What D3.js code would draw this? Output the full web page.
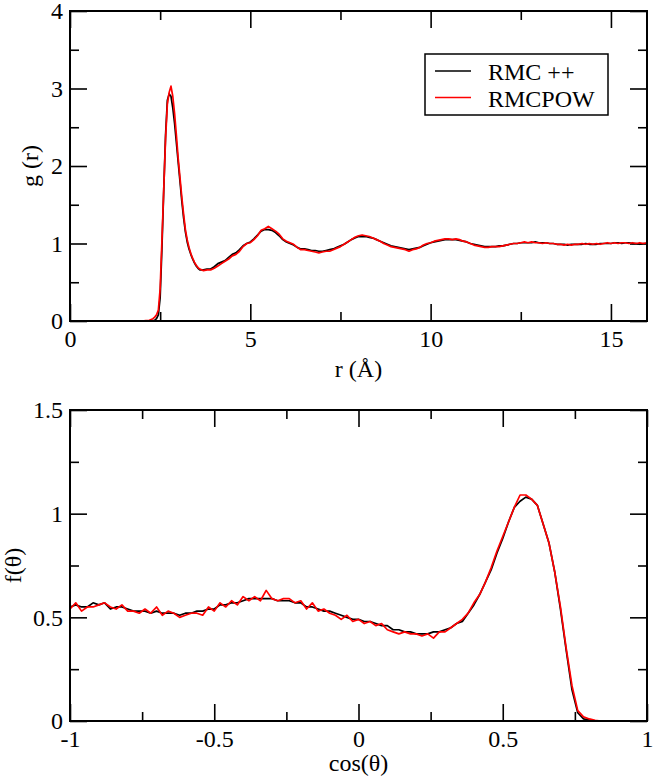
<!DOCTYPE html>
<html>
<head>
<meta charset="utf-8">
<script src="https://cdn.jsdelivr.net/npm/d3@7"></script>
<style>
  html, body { margin: 0; padding: 0; background: #fff; }
</style>
</head>
<body>
<div id="chart"></div>
<script>
// ---- top panel : g(r) ----
const rValues = [
  0, 0.5, 1.0, 1.5, 2.0, 2.1, 2.2,
  2.25, 2.3, 2.35, 2.4, 2.45, 2.5, 2.55, 2.6, 2.65, 2.7,
  2.75, 2.8, 2.85, 2.9, 2.95, 3.0, 3.05, 3.1, 3.15, 3.2,
  3.25, 3.3, 3.35, 3.4, 3.45, 3.5, 3.55, 3.6,
  3.7, 3.8, 3.9, 4.0, 4.1, 4.2, 4.3, 4.4, 4.5, 4.6,
  4.7, 4.8, 4.9, 5.0, 5.1, 5.2, 5.3, 5.4, 5.5, 5.6,
  5.7, 5.8, 5.9, 6.0, 6.1, 6.2, 6.3, 6.4, 6.5, 6.6,
  6.7, 6.8, 6.9, 7.0, 7.1, 7.2, 7.3, 7.4, 7.5, 7.6,
  7.7, 7.8, 7.9, 8.0, 8.1, 8.2, 8.3, 8.4, 8.5, 8.6,
  8.7, 8.8, 8.9, 9.0, 9.1, 9.2, 9.3, 9.4, 9.5, 9.6,
  9.7, 9.8, 9.9, 10.0, 10.1, 10.2, 10.3, 10.4, 10.5, 10.6,
  10.7, 10.8, 10.9, 11.0, 11.1, 11.2, 11.3, 11.4, 11.5, 11.6,
  11.7, 11.8, 11.9, 12.0, 12.1, 12.2, 12.3, 12.4, 12.5, 12.6,
  12.7, 12.8, 12.9, 13.0, 13.1, 13.2, 13.3, 13.4, 13.5, 13.6,
  13.7, 13.8, 13.9, 14.0, 14.1, 14.2, 14.3, 14.4, 14.5, 14.6,
  14.7, 14.8, 14.9, 15.0, 15.1, 15.2, 15.3, 15.4, 15.5, 15.6,
  15.7, 15.8, 15.9, 16.0
];

const gRmcpp = [
  0, 0, 0, 0, 0, 0, 0,
  0, 0.005, 0.01, 0.03, 0.08, 0.30, 0.95, 1.70, 2.40, 2.85,
  2.93, 2.90, 2.75, 2.55, 2.30, 2.05, 1.80, 1.55, 1.33, 1.15,
  1.02, 0.93, 0.86, 0.80, 0.75, 0.71, 0.68, 0.66,
  0.66, 0.67, 0.67, 0.70, 0.74, 0.76, 0.78, 0.82, 0.86, 0.88,
  0.92, 0.97, 1.00, 1.02, 1.06, 1.11, 1.16, 1.18, 1.18, 1.17,
  1.14, 1.10, 1.05, 1.02, 1.00, 0.98, 0.95, 0.93, 0.93, 0.92,
  0.91, 0.91, 0.90, 0.90, 0.91, 0.92, 0.93, 0.95, 0.97, 0.99,
  1.02, 1.05, 1.07, 1.09, 1.09, 1.09, 1.08, 1.07, 1.05, 1.03,
  1.01, 0.99, 0.97, 0.96, 0.95, 0.94, 0.93, 0.92, 0.93, 0.94,
  0.95, 0.97, 0.99, 1.01, 1.02, 1.03, 1.04, 1.05, 1.05, 1.05,
  1.05, 1.04, 1.03, 1.02, 1.00, 0.99, 0.98, 0.97, 0.96, 0.96,
  0.96, 0.96, 0.97, 0.97, 0.98, 0.99, 1.00, 1.00, 1.01, 1.01,
  1.01, 1.01, 1.02, 1.01, 1.01, 1.01, 1.00, 1.00, 0.99, 0.99,
  0.99, 0.98, 0.99, 0.99, 0.99, 0.99, 1.00, 0.99, 0.99, 0.99,
  1.00, 1.00, 1.00, 1.00, 1.01, 1.01, 1.00, 1.01, 1.01, 1.00,
  1.00, 0.99, 1.00, 1.00
];

const gRmcpow = [
  0, 0, 0, 0, 0, 0.005, 0.01,
  0.02, 0.03, 0.05, 0.08, 0.14, 0.42, 1.05, 1.70, 2.35, 2.80,
  2.95, 3.03, 2.90, 2.68, 2.40, 2.10, 1.85, 1.60, 1.38, 1.18,
  1.05, 0.95, 0.87, 0.81, 0.76, 0.72, 0.69, 0.67,
  0.65, 0.66, 0.66, 0.68, 0.71, 0.74, 0.77, 0.80, 0.84, 0.86,
  0.90, 0.96, 1.00, 1.01, 1.05, 1.10, 1.17, 1.19, 1.22, 1.19,
  1.16, 1.12, 1.06, 1.03, 1.01, 0.99, 0.95, 0.92, 0.92, 0.91,
  0.90, 0.89, 0.88, 0.89, 0.90, 0.90, 0.92, 0.94, 0.96, 0.99,
  1.02, 1.05, 1.08, 1.10, 1.11, 1.10, 1.09, 1.07, 1.05, 1.03,
  1.00, 0.98, 0.96, 0.95, 0.94, 0.93, 0.92, 0.90, 0.92, 0.93,
  0.95, 0.98, 1.00, 1.01, 1.03, 1.04, 1.05, 1.06, 1.06, 1.05,
  1.06, 1.05, 1.03, 1.02, 1.00, 0.98, 0.97, 0.96, 0.95, 0.95,
  0.96, 0.96, 0.96, 0.97, 0.98, 0.99, 1.00, 1.00, 1.01, 1.02,
  1.01, 1.02, 1.01, 1.01, 1.00, 1.01, 1.00, 1.00, 0.99, 0.99,
  0.98, 0.99, 0.98, 0.99, 0.99, 1.00, 0.99, 1.00, 0.99, 1.00,
  0.99, 1.00, 1.01, 1.00, 1.01, 1.00, 1.01, 1.01, 1.00, 1.01,
  1.00, 1.01, 1.00, 1.01
];

const rTicks = [0, 5, 10, 15];
const rMinorTicks = [2.5, 7.5, 12.5];
const gTicks = [0, 1, 2, 3, 4];
const gMinorTicks = [0.5, 1.5, 2.5, 3.5];

// ---- bottom panel : f(theta) ----
const cosValues = [
  -1.00, -0.98, -0.96, -0.94, -0.92, -0.90, -0.88, -0.86, -0.84, -0.82,
  -0.80, -0.78, -0.76, -0.74, -0.72, -0.70, -0.68, -0.66, -0.64, -0.62,
  -0.60, -0.58, -0.56, -0.54, -0.52, -0.50, -0.48, -0.46, -0.44, -0.42,
  -0.40, -0.38, -0.36, -0.34, -0.32, -0.30, -0.28, -0.26, -0.24, -0.22,
  -0.20, -0.18, -0.16, -0.14, -0.12, -0.10, -0.08, -0.06, -0.04, -0.02,
  0.00, 0.02, 0.04, 0.06, 0.08, 0.10, 0.12, 0.14, 0.16, 0.18,
  0.20, 0.22, 0.24, 0.26, 0.28, 0.30, 0.32, 0.34, 0.36, 0.38,
  0.40, 0.42, 0.44, 0.46, 0.48, 0.50, 0.52, 0.54, 0.56, 0.58,
  0.60, 0.62, 0.64, 0.66, 0.68, 0.70, 0.72, 0.74, 0.76, 0.78,
  0.80, 0.82, 0.84, 0.86, 0.88, 0.90, 0.92, 0.94, 0.96, 0.98,
  1.00
];

const fRmcpp = [
  0.55, 0.56, 0.55, 0.55, 0.57, 0.56, 0.57, 0.54, 0.55, 0.55,
  0.54, 0.53, 0.53, 0.53, 0.52, 0.53, 0.52, 0.52, 0.52, 0.51,
  0.52, 0.52, 0.53, 0.53, 0.54, 0.54, 0.56, 0.56, 0.57, 0.57,
  0.58, 0.59, 0.59, 0.59, 0.59, 0.59, 0.58, 0.58, 0.58, 0.57,
  0.57, 0.55, 0.55, 0.54, 0.53, 0.53, 0.52, 0.51, 0.50, 0.49,
  0.49, 0.48, 0.48, 0.47, 0.46, 0.46, 0.44, 0.44, 0.43, 0.43,
  0.42, 0.42, 0.42, 0.43, 0.43, 0.44, 0.45, 0.47, 0.48, 0.52,
  0.56, 0.61, 0.67, 0.73, 0.81, 0.88, 0.96, 1.03, 1.06, 1.08,
  1.07, 1.04, 0.95, 0.86, 0.72, 0.54, 0.34, 0.15, 0.04, 0.01,
  0.005, 0, 0, 0, 0, 0, 0, 0, 0, 0,
  0
];

const fRmcpow = [
  0.54, 0.57, 0.53, 0.55, 0.55, 0.56, 0.57, 0.55, 0.54, 0.56,
  0.53, 0.53, 0.52, 0.54, 0.52, 0.55, 0.51, 0.53, 0.52, 0.50,
  0.51, 0.52, 0.52, 0.51, 0.55, 0.53, 0.57, 0.55, 0.58, 0.56,
  0.60, 0.58, 0.60, 0.58, 0.63, 0.59, 0.58, 0.59, 0.59, 0.57,
  0.58, 0.54, 0.57, 0.53, 0.54, 0.52, 0.51, 0.49, 0.51, 0.48,
  0.49, 0.47, 0.48, 0.46, 0.47, 0.44, 0.43, 0.42, 0.43, 0.42,
  0.42, 0.41, 0.42, 0.40, 0.43, 0.43, 0.45, 0.47, 0.49, 0.52,
  0.57, 0.61, 0.67, 0.74, 0.82, 0.89, 0.96, 1.03, 1.09, 1.09,
  1.07, 1.04, 0.95, 0.86, 0.72, 0.55, 0.35, 0.17, 0.05, 0.02,
  0.01, 0.003, 0, 0, 0, 0, 0, 0, 0, 0,
  0
];

const cosTicks = [-1, -0.5, 0, 0.5, 1];
const cosMinorTicks = [-0.75, -0.25, 0.25, 0.75];
const fTicks = [0, 0.5, 1, 1.5];
const fMinorTicks = [0.25, 0.75, 1.25];

const seriesNames = ['RMC ++', 'RMCPOW'];
const seriesColors = ['#000000', '#ff0000'];

const chart = (() => {
    const width = 654, height = 779;
    const left = 70, right = 647;
    const majorLen = 17, minorLen = 9;
    const serif = 'Liberation Serif';
    let svg;

    const appendSVG = () => {
        svg = d3.select('#chart').append('svg')
          .attr('width', width)
          .attr('height', height)
          .attr('font-family', serif);
    };

    const setFont = (sel) => sel
        .attr('font-family', serif)
        .attr('font-size', 24)
        .attr('fill', '#000');

    /**
     * Draw one framed panel with mirrored inward ticks
     */
    const drawPanel = (p) => {
        const x = d3.scaleLinear().domain(p.xDomain).range([left, right]);
        const y = d3.scaleLinear().domain(p.yDomain).range([p.bottom, p.top]);
        const g = svg.append('g');
        const fmt = d => String(d);

        const styleAxis = (sel) => {
            sel.attr('font-family', serif).attr('font-size', 24);
            sel.select('.domain').remove();
            sel.selectAll('line').attr('stroke', '#000').attr('stroke-width', 1.6);
            sel.selectAll('text').call(setFont);
        };

        const addAxis = (axisFn, scale, ticks, len, withText, tx, ty) => {
            const axis = axisFn(scale).tickValues(ticks).tickSize(-len)
              .tickFormat(withText ? fmt : '');
            g.append('g')
              .attr('transform', `translate(${tx},${ty})`)
              .call(withText ? axis.tickPadding(withText === 'x' ? 9 : 7) : axis)
              .call(styleAxis);
        };

        addAxis(d3.axisBottom, x, p.xTicks, majorLen, 'x', 0, p.bottom);
        addAxis(d3.axisBottom, x, p.xMinor, minorLen, false, 0, p.bottom);
        addAxis(d3.axisTop, x, p.xTicks, majorLen, false, 0, p.top);
        addAxis(d3.axisTop, x, p.xMinor, minorLen, false, 0, p.top);
        addAxis(d3.axisLeft, y, p.yTicks, majorLen, 'y', left, 0);
        addAxis(d3.axisLeft, y, p.yMinor, minorLen, false, left, 0);
        addAxis(d3.axisRight, y, p.yTicks, majorLen, false, right, 0);
        addAxis(d3.axisRight, y, p.yMinor, minorLen, false, right, 0);

        const line = d3.line()
          .x(d => x(d[0]))
          .y(d => y(d[1]));

        p.series.forEach((vals, i) => {
            g.append('path')
              .datum(p.xs.map((v, k) => [v, vals[k]]))
              .attr('fill', 'none')
              .attr('stroke', seriesColors[i])
              .attr('stroke-width', 1.7)
              .attr('stroke-linejoin', 'round')
              .attr('d', line);
        });

        g.append('rect')
          .attr('x', left).attr('y', p.top)
          .attr('width', right - left).attr('height', p.bottom - p.top)
          .attr('fill', 'none')
          .attr('stroke', '#000')
          .attr('stroke-width', 2);

        g.append('text')
          .attr('x', (left + right) / 2)
          .attr('y', p.xTitleY)
          .attr('text-anchor', 'middle')
          .call(setFont)
          .text(p.xTitle);

        g.append('text')
          .attr('transform', `translate(${p.yTitleX},${(p.top + p.bottom) / 2}) rotate(-90)`)
          .attr('text-anchor', 'middle')
          .call(setFont)
          .text(p.yTitle);
    };

    const drawLegend = () => {
        const lg = svg.append('g');
        lg.append('rect')
          .attr('x', 425).attr('y', 54)
          .attr('width', 183).attr('height', 61)
          .attr('fill', '#fff')
          .attr('stroke', '#000')
          .attr('stroke-width', 1.5);
        seriesNames.forEach((name, i) => {
            const yy = 71 + i * 26.5;
            lg.append('line')
              .attr('x1', 435).attr('x2', 471)
              .attr('y1', yy).attr('y2', yy)
              .attr('stroke', seriesColors[i])
              .attr('stroke-width', 1.7);
            lg.append('text')
              .attr('x', 488)
              .attr('y', yy + 9)
              .call(setFont)
              .text(name);
        });
    };

    const draw = () => {
        appendSVG();
        drawPanel({
            top: 11, bottom: 321,
            xDomain: [0, 16], yDomain: [0, 4],
            xTicks: rTicks, xMinor: rMinorTicks,
            yTicks: gTicks, yMinor: gMinorTicks,
            xs: rValues, series: [gRmcpp, gRmcpow],
            xTitle: 'r (Å)', xTitleY: 377,
            yTitle: 'g (r)', yTitleX: 38
        });
        drawPanel({
            top: 410, bottom: 721,
            xDomain: [-1, 1], yDomain: [0, 1.5],
            xTicks: cosTicks, xMinor: cosMinorTicks,
            yTicks: fTicks, yMinor: fMinorTicks,
            xs: cosValues, series: [fRmcpp, fRmcpow],
            xTitle: 'cos(θ)', xTitleY: 771,
            yTitle: 'f(θ)', yTitleX: 21
        });
        drawLegend();
    };

    return {
        draw: draw
    }
})();

chart.draw();
</script>
</body>
</html>
